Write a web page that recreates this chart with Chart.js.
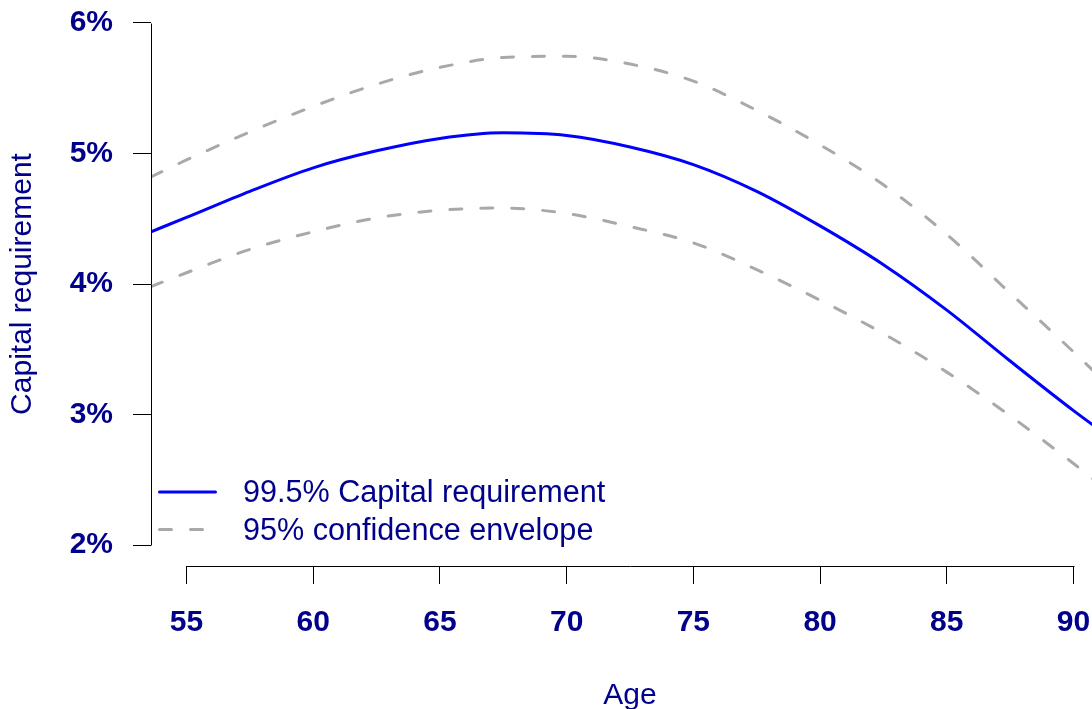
<!DOCTYPE html>
<html>
<head>
<meta charset="utf-8">
<script src="https://cdn.jsdelivr.net/npm/chart.js@4/dist/chart.umd.min.js"></script>
<style>
  html, body { margin: 0; padding: 0; background: #fff; overflow: hidden; }
  #frame { width: 1092px; height: 709px; overflow: hidden; }
  #wrap { width: 1130px; height: 709px; position: relative; }
</style>
</head>
<body>
<div id="frame"><div id="wrap"><canvas id="chart-capital"></canvas></div></div>
<script>
// values (percent)
const ages = [53.6, 55, 57.5, 60, 62.5, 65, 67.5, 70, 72.5, 75, 77.5, 80, 82.5, 85, 87.5, 90, 91.4];
const capital = [4.40, 4.51, 4.71, 4.89, 5.02, 5.115, 5.158, 5.138, 5.05, 4.915, 4.71, 4.445, 4.148, 3.80, 3.41, 3.03, 2.83];
const upperBand = [4.82, 4.95, 5.165, 5.36, 5.53, 5.659, 5.735, 5.745, 5.685, 5.554, 5.33, 5.066, 4.76, 4.38, 3.93, 3.48, 3.22];
const lowerBand = [3.98, 4.086, 4.265, 4.40, 4.506, 4.565, 4.582, 4.54, 4.44, 4.315, 4.11, 3.876, 3.62, 3.325, 2.99, 2.625, 2.41];
const xTicks = [55, 60, 65, 70, 75, 80, 85, 90];
const yTicks = [2, 3, 4, 5, 6];

const navy = '#00008B';
const family = '"Liberation Sans", Arial, Helvetica, sans-serif';

const toPoints = values => values.map((v, i) => ({ x: ages[i], y: v }));

// R-style axis lines: only from first to last tick
const baseAxes = {
  id: 'baseAxes',
  afterDraw(chart) {
    const { ctx, chartArea, scales: { x, y } } = chart;
    const ax = Math.round(chartArea.left) + 0.5;
    const ay = Math.round(chartArea.bottom) + 0.5;
    ctx.save();
    ctx.strokeStyle = '#000';
    ctx.lineWidth = 1;
    ctx.beginPath();
    ctx.moveTo(ax, Math.round(y.getPixelForValue(yTicks[0])) + 0.5);
    ctx.lineTo(ax, Math.round(y.getPixelForValue(yTicks[yTicks.length - 1])) + 0.5);
    ctx.moveTo(Math.round(x.getPixelForValue(xTicks[0])) + 0.5, ay);
    ctx.lineTo(Math.round(x.getPixelForValue(xTicks[xTicks.length - 1])) + 0.5, ay);
    ctx.stroke();
    ctx.restore();
  }
};

// legend in the bottom-left corner of the plot
const rLegend = {
  id: 'rLegend',
  afterDraw(chart) {
    const { ctx, chartArea } = chart;
    const rows = [chartArea.bottom - 74, chartArea.bottom - 36.5];
    ctx.save();
    chart.data.datasets.slice(0, 2).forEach((ds, i) => {
      const yy = rows[i];
      ctx.strokeStyle = ds.borderColor;
      ctx.lineWidth = ds.borderWidth;
      ctx.lineCap = 'round';
      ctx.setLineDash(ds.borderDash || []);
      ctx.beginPath();
      ctx.moveTo(chartArea.left + 8.5, yy);
      ctx.lineTo(chartArea.left + 64.5, yy);
      ctx.stroke();
      ctx.setLineDash([]);
      ctx.fillStyle = navy;
      ctx.font = `30.6px ${family}`;
      ctx.textAlign = 'left';
      ctx.textBaseline = 'middle';
      ctx.fillText(ds.label, chartArea.left + 92, yy + 2);
    });
    ctx.restore();
  }
};

const capitalChart = new Chart(document.getElementById('chart-capital'), {
  type: 'line',
  data: {
    datasets: [
      {
        label: '99.5% Capital requirement',
        data: toPoints(capital),
        borderColor: '#0000FF',
        borderWidth: 3,
        pointRadius: 0,
        cubicInterpolationMode: 'monotone',
        fill: false
      },
      {
        label: '95% confidence envelope',
        data: toPoints(upperBand),
        borderColor: '#A9A9A9',
        borderWidth: 3,
        borderDash: [12, 19],
        borderCapStyle: 'round',
        pointRadius: 0,
        cubicInterpolationMode: 'monotone',
        fill: false
      },
      {
        label: '95% confidence envelope (lower)',
        data: toPoints(lowerBand),
        borderColor: '#A9A9A9',
        borderWidth: 3,
        borderDash: [12, 19],
        borderCapStyle: 'round',
        pointRadius: 0,
        cubicInterpolationMode: 'monotone',
        fill: false
      }
    ]
  },
  options: {
    responsive: true,
    maintainAspectRatio: false,
    animation: false,
    events: [],
    layout: { padding: { top: 2, right: 21, left: 0, bottom: 0 } },
    plugins: {
      legend: { display: false },
      tooltip: { enabled: false }
    },
    scales: {
      x: {
        type: 'linear',
        min: 53.6,
        max: 91.4,
        afterBuildTicks: s => { s.ticks = xTicks.map(v => ({ value: v })); },
        afterFit: s => { s.height = 143; s.paddingLeft = 0; s.paddingRight = 0; },
        grid: { drawOnChartArea: false, drawTicks: true, tickLength: 18, color: '#000', lineWidth: 1 },
        border: { display: false },
        ticks: {
          color: navy,
          font: { family, size: 30, weight: 'bold' },
          padding: 21,
          maxRotation: 0,
          autoSkip: false
        },
        title: {
          display: true,
          text: 'Age',
          color: navy,
          font: { family, size: 30, lineHeight: 0.88 },
          padding: { top: 0, bottom: 0 }
        }
      },
      y: {
        type: 'linear',
        min: 1.84,
        max: 6.16,
        afterBuildTicks: s => { s.ticks = yTicks.map(v => ({ value: v })); },
        afterFit: s => { s.width = 151; s.paddingTop = 0; s.paddingBottom = 0; },
        grid: { drawOnChartArea: false, drawTicks: true, tickLength: 18, color: '#000', lineWidth: 1 },
        border: { display: false },
        ticks: {
          color: navy,
          font: { family, size: 30, weight: 'bold' },
          padding: 20,
          callback: v => v + '%'
        },
        title: {
          display: true,
          text: 'Capital requirement',
          color: navy,
          font: { family, size: 30, lineHeight: 1 },
          padding: { top: 8, bottom: 0 }
        }
      }
    }
  },
  plugins: [baseAxes, rLegend]
});
</script>
</body>
</html>
